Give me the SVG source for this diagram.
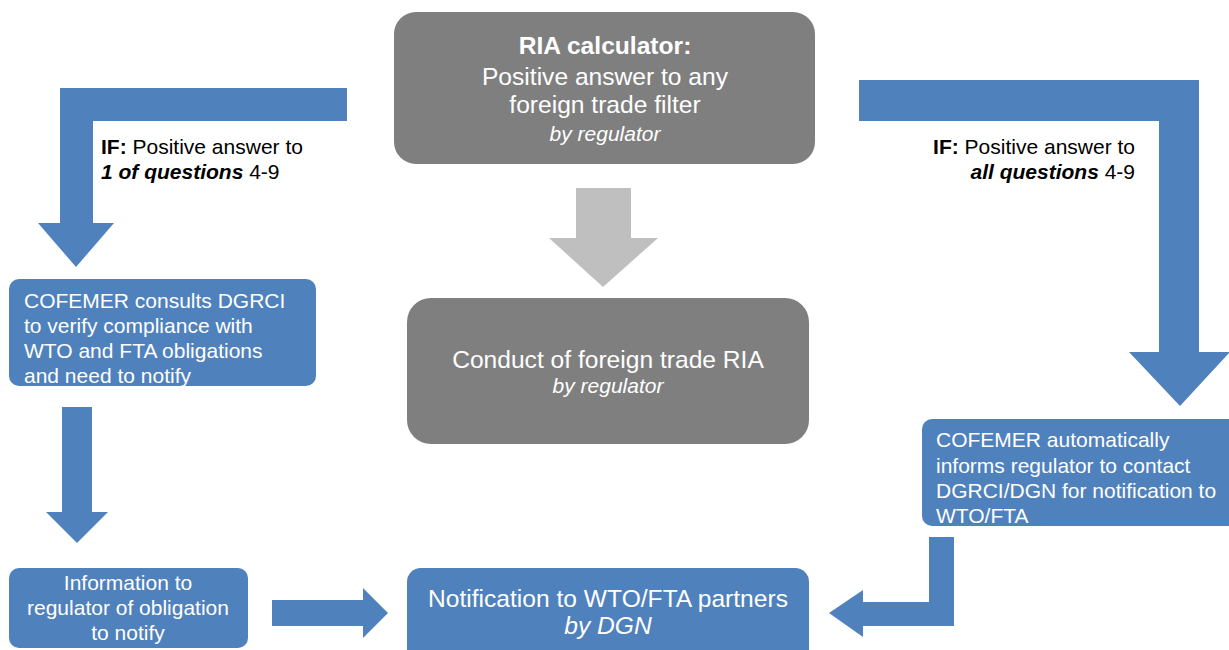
<svg xmlns="http://www.w3.org/2000/svg" width="1229" height="650" viewBox="0 0 1229 650">
<style>
  .blue { fill: #4f81bd; }
  .gray { fill: #7f7f7f; }
  .lgray { fill: #bfbfbf; }
  text { font-family: "Liberation Sans", Arial, sans-serif; }
  .w { fill: #ffffff; }
  .k { fill: #000000; }
  .big { font-size: 24.6px; }
  .mid { font-size: 21px; }
  .it { font-style: italic; }
  .b { font-weight: bold; }
</style>
<rect width="1229" height="650" fill="#ffffff"/>
<g id="connectors">
  <path class="blue" d="M347,88 H60 V223 H38 L76,267 L114,223 H93 V121 H347 Z"/>
  <path class="blue" d="M859,80 H1199 V352 H1230 L1180,406 L1129,352 H1159 V121 H859 Z"/>
  <path class="lgray" d="M576,188 H631 V238 H658 L603,287 L549,238 H576 Z"/>
  <path class="blue" d="M62,407 H92 V512 H108 L77,543 L46,512 H62 Z"/>
  <path class="blue" d="M272,600 H363 V588 L388,613 L363,638 V626 H272 Z"/>
  <path class="blue" d="M929,537 H954 V626 H863 V637 L829,613 L863,590 V602 H929 Z"/>
  <text class="mid k" x="101" y="154"><tspan class="b">IF:</tspan> Positive answer to</text>
  <text class="mid k" x="101" y="179"><tspan class="b it">1 of questions</tspan> 4-9</text>
  <text class="mid k" x="1135" y="154" text-anchor="end"><tspan class="b">IF:</tspan> Positive answer to</text>
  <text class="mid k" x="1135" y="179" text-anchor="end"><tspan class="b it">all questions</tspan> 4-9</text>
</g>
<g id="ria-calculator">
  <rect class="gray" x="394" y="12" width="421" height="152" rx="22"/>
  <text class="big w b" x="605" y="54" text-anchor="middle">RIA calculator:</text>
  <text class="big w" x="605" y="85" text-anchor="middle">Positive answer to any</text>
  <text class="big w" x="605" y="113" text-anchor="middle">foreign trade filter</text>
  <text class="w it" font-size="21" x="605" y="141" text-anchor="middle">by regulator</text>
</g>
<g id="conduct-ria">
  <rect class="gray" x="407" y="298" width="402" height="146" rx="24"/>
  <text class="big w" x="608" y="368" text-anchor="middle">Conduct of foreign trade RIA</text>
  <text class="w it" font-size="21" x="608" y="393" text-anchor="middle">by regulator</text>
</g>
<g id="cofemer-consults">
  <rect class="blue" x="9" y="279" width="307" height="107" rx="10"/>
  <text class="mid w" x="24" y="308">COFEMER consults DGRCI</text>
  <text class="mid w" x="24" y="333">to verify compliance with</text>
  <text class="mid w" x="24" y="358">WTO and FTA obligations</text>
  <text class="mid w" x="24" y="383">and need to notify</text>
</g>
<g id="information">
  <rect class="blue" x="9" y="568" width="239" height="80" rx="10"/>
  <text class="mid w" x="128" y="590" text-anchor="middle">Information to</text>
  <text class="mid w" x="128" y="615" text-anchor="middle">regulator of obligation</text>
  <text class="mid w" x="128" y="640" text-anchor="middle">to notify</text>
</g>
<g id="notification">
  <rect class="blue" x="407" y="568" width="402" height="100" rx="14"/>
  <text class="big w" x="608" y="607" text-anchor="middle">Notification to WTO/FTA partners</text>
  <text class="big w it" x="608" y="634" text-anchor="middle">by DGN</text>
</g>
<g id="cofemer-informs">
  <rect class="blue" x="922" y="419" width="320" height="107" rx="10"/>
  <text class="mid w" x="936" y="447">COFEMER automatically</text>
  <text class="mid w" x="936" y="473">informs regulator to contact</text>
  <text class="mid w" x="936" y="498">DGRCI/DGN for notification to</text>
  <text class="mid w" x="936" y="523">WTO/FTA</text>
</g>
</svg>
